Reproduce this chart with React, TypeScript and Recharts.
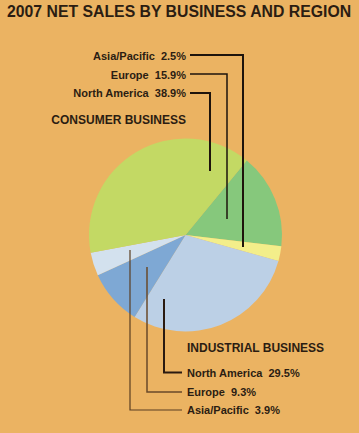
import { PieChart, Pie, Cell } from "recharts";

const businesses = ["Consumer", "Consumer", "Industrial", "Industrial", "Industrial", "Consumer"];
const regions = ["Europe", "Asia/Pacific", "North America", "Europe", "Asia/Pacific", "North America"];
const shares = [15.9, 2.5, 29.5, 9.3, 3.9, 38.9];
const sliceColors = ["#86c87c", "#f3ee8a", "#bcd0e6", "#7ea8d4", "#d3e1ee", "#c3d964"];

const consumerLabels = ["Asia/Pacific  2.5%", "Europe  15.9%", "North America  38.9%"];
const industrialLabels = ["North America  29.5%", "Europe  9.3%", "Asia/Pacific  3.9%"];

const W = 359;
const H = 433;
const INK = "#2b1d12";

const chartData = shares.map((v, i) => ({
  name: `${businesses[i]} ${regions[i]}`,
  value: v,
  color: sliceColors[i],
}));

const App = () => {
  const font = "'Liberation Sans', Arial, sans-serif";
  const pre = { whiteSpace: "pre" as const };
  return (
    <div style={{ position: "fixed", left: 0, top: 0, width: W, height: H, background: "#ebb362" }}>
      <PieChart width={W} height={H} margin={{ top: 0, right: 0, bottom: 0, left: 0 }}>
        <Pie
          data={chartData}
          dataKey="value"
          cx={185.5}
          cy={235}
          outerRadius={96.5}
          startAngle={50.6}
          endAngle={-309.4}
          stroke="none"
          isAnimationActive={false}
        >
          {chartData.map((entry, index) => (
            <Cell key={`cell-${index}`} fill={entry.color} />
          ))}
        </Pie>
      </PieChart>

      {/* titles, labels and leader lines */}
      <svg width={W} height={H} style={{ position: "absolute", left: 0, top: 0 }}>
        <text x={7} y={17} fontFamily={font} fontWeight="bold" fontSize={15.8} fill={INK}>
          2007 NET SALES BY BUSINESS AND REGION
        </text>

        {/* consumer */}
        <text x={186} y={60} textAnchor="end" fontFamily={font} fontWeight="bold" fontSize={11} fill={INK} style={pre}>{consumerLabels[0]}</text>
        <text x={186} y={78.5} textAnchor="end" fontFamily={font} fontWeight="bold" fontSize={11} fill={INK} style={pre}>{consumerLabels[1]}</text>
        <text x={186} y={97} textAnchor="end" fontFamily={font} fontWeight="bold" fontSize={11} fill={INK} style={pre}>{consumerLabels[2]}</text>
        <text x={186} y={123.5} textAnchor="end" fontFamily={font} fontWeight="bold" fontSize={12} fill={INK}>CONSUMER BUSINESS</text>

        <polyline points="190,55 243,55 243,247" fill="none" stroke="#1e140c" strokeWidth={2} />
        <polyline points="190,74 227,74 227,219" fill="none" stroke="#1e140c" strokeWidth={1.5} />
        <polyline points="190,93 210,93 210,171" fill="none" stroke="#1e140c" strokeWidth={2} />

        {/* industrial */}
        <text x={187} y={352} fontFamily={font} fontWeight="bold" fontSize={12} fill={INK}>INDUSTRIAL BUSINESS</text>
        <text x={187} y={376.5} fontFamily={font} fontWeight="bold" fontSize={11} fill={INK} style={pre}>{industrialLabels[0]}</text>
        <text x={187} y={395.5} fontFamily={font} fontWeight="bold" fontSize={11} fill={INK} style={pre}>{industrialLabels[1]}</text>
        <text x={187} y={414} fontFamily={font} fontWeight="bold" fontSize={11} fill={INK} style={pre}>{industrialLabels[2]}</text>

        <polyline points="164,299 164,372.5 182,372.5" fill="none" stroke="#2a1a10" strokeWidth={2} />
        <polyline points="147,267 147,392 182,392" fill="none" stroke="#6a4a2a" strokeWidth={1.5} />
        <polyline points="130,250 130,410 182,410" fill="none" stroke="#5a3e22" strokeWidth={1.2} />
      </svg>
    </div>
  );
};

export default App;
